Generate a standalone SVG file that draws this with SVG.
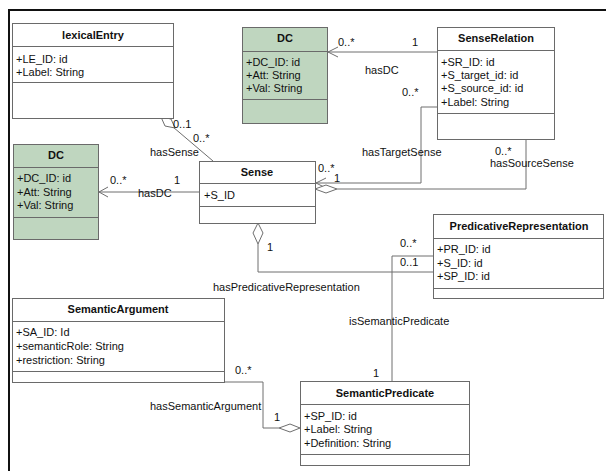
<svg xmlns="http://www.w3.org/2000/svg" width="606" height="471" viewBox="0 0 606 471">
<style>
text{font-family:"Liberation Sans",Arial,sans-serif;font-size:11px;fill:#111}
.t{font-weight:bold;text-anchor:middle}
.box{fill:#fff;stroke:#6a6a6a;stroke-width:1}
.g{fill:#bfd6bf;stroke:#6a6a6a;stroke-width:1}
.sep{stroke:#6a6a6a;stroke-width:1}
.c{fill:none;stroke:#6e6e6e;stroke-width:1}
.d{fill:#fff;stroke:#6e6e6e;stroke-width:1}
</style>
<rect x="0" y="0" width="606" height="471" fill="#fff"/>
<path d="M9,471 V10 H606" fill="none" stroke="#111" stroke-width="2"/>

<g id="connectors">
  <!-- hasSense -->
  <path class="c" d="M173,127 L213,161"/>
  <path class="d" d="M161,117 L171,119 L175,128 L165,126 Z"/>
  <text x="173" y="128">0..1</text>
  <text x="193" y="142">0..*</text>
  <text x="150" y="156">hasSense</text>
  <!-- hasDC left -->
  <path class="c" d="M199,192 H99"/>
  <path class="c" d="M108,187 L99,192 L108,197"/>
  <text x="110" y="184">0..*</text>
  <text x="174" y="184">1</text>
  <text x="138" y="197">hasDC</text>
  <!-- hasDC top -->
  <path class="c" d="M437,52 H328"/>
  <path class="c" d="M338,47 L328,52 L338,57"/>
  <text x="338" y="46">0..*</text>
  <text x="412" y="46">1</text>
  <text x="365" y="74">hasDC</text>
  <!-- hasTargetSense -->
  <path class="c" d="M437,107 H421 V183 H316"/>
  <path class="c" d="M326,178 L316,183 L326,188"/>
  <text x="402" y="96">0..*</text>
  <text x="362" y="156">hasTargetSense</text>
  <text x="318" y="172">0..*</text>
  <text x="334" y="182">1</text>
  <!-- hasSourceSense -->
  <path class="c" d="M526,139 V189 H337"/>
  <path class="d" d="M315,189 L326,185 L337,189 L326,193 Z"/>
  <text x="495" y="155">0..*</text>
  <text x="490" y="167">hasSourceSense</text>
  <!-- hasPredicativeRepresentation -->
  <path class="c" d="M258,244 V272 H433"/>
  <path class="d" d="M258,223 L263,233 L258,244 L253,233 Z"/>
  <text x="267" y="251">1</text>
  <text x="213" y="291">hasPredicativeRepresentation</text>
  <text x="400" y="247">0..*</text>
  <!-- isSemanticPredicate -->
  <path class="c" d="M433,256 H392 V381"/>
  <text x="400" y="266">0..1</text>
  <text x="349" y="325">isSemanticPredicate</text>
  <text x="373" y="377">1</text>
  <!-- hasSemanticArgument -->
  <path class="c" d="M224,382 H263 V428 H279"/>
  <path class="d" d="M279,428 L290,424 L300,428 L290,432 Z"/>
  <text x="235" y="374">0..*</text>
  <text x="150" y="410">hasSemanticArgument</text>
  <text x="274" y="421">1</text>
</g>

<g id="lexicalEntry">
  <rect class="box" x="12.5" y="23.5" width="161" height="95"/>
  <path class="sep" d="M12.5,46.5 H173.5 M12.5,82.5 H173.5"/>
  <text class="t" x="93" y="39">lexicalEntry</text>
  <text x="16" y="63">+LE_ID: id</text>
  <text x="16" y="76">+Label: String</text>
</g>

<g id="DC_top">
  <rect class="g" x="242.5" y="27.5" width="85" height="96"/>
  <path class="sep" d="M242.5,51.5 H327.5 M242.5,99.5 H327.5"/>
  <text class="t" x="285" y="42">DC</text>
  <text x="246" y="66">+DC_ID: id</text>
  <text x="246" y="79">+Att: String</text>
  <text x="246" y="92">+Val: String</text>
</g>

<g id="SenseRelation">
  <rect class="box" x="437.5" y="27.5" width="117" height="112"/>
  <path class="sep" d="M437.5,50.5 H554.5 M437.5,113.5 H554.5"/>
  <text class="t" x="496" y="42">SenseRelation</text>
  <text x="441" y="66">+SR_ID: id</text>
  <text x="441" y="79">+S_target_id: id</text>
  <text x="441" y="92">+S_source_id: id</text>
  <text x="441" y="106">+Label: String</text>
</g>

<g id="DC_left">
  <rect class="g" x="13.5" y="144.5" width="85" height="95"/>
  <path class="sep" d="M13.5,167.5 H98.5 M13.5,217.5 H98.5"/>
  <text class="t" x="56" y="159">DC</text>
  <text x="17" y="182">+DC_ID: id</text>
  <text x="17" y="196">+Att: String</text>
  <text x="17" y="209">+Val: String</text>
</g>

<g id="Sense">
  <rect class="box" x="199.5" y="161.5" width="116" height="62"/>
  <path class="sep" d="M199.5,183.5 H315.5 M199.5,206.5 H315.5"/>
  <text class="t" x="257" y="176">Sense</text>
  <text x="204" y="199">+S_ID</text>
</g>

<g id="PredicativeRepresentation">
  <rect class="box" x="433.5" y="214.5" width="170" height="84"/>
  <path class="sep" d="M433.5,238.5 H603.5 M433.5,288.5 H603.5"/>
  <text class="t" x="519" y="230">PredicativeRepresentation</text>
  <text x="437" y="253">+PR_ID: id</text>
  <text x="437" y="267">+S_ID: id</text>
  <text x="437" y="280">+SP_ID: id</text>
</g>

<g id="SemanticArgument">
  <rect class="box" x="12.5" y="298.5" width="212" height="84"/>
  <path class="sep" d="M12.5,321.5 H224.5 M12.5,371.5 H224.5"/>
  <text class="t" x="118" y="313">SemanticArgument</text>
  <text x="16" y="336">+SA_ID: Id</text>
  <text x="16" y="350">+semanticRole: String</text>
  <text x="16" y="364">+restriction: String</text>
</g>

<g id="SemanticPredicate">
  <rect class="box" x="300.5" y="381.5" width="169" height="84"/>
  <path class="sep" d="M300.5,404.5 H469.5 M300.5,454.5 H469.5"/>
  <text class="t" x="385" y="397">SemanticPredicate</text>
  <text x="304" y="420">+SP_ID: id</text>
  <text x="304" y="433">+Label: String</text>
  <text x="304" y="447">+Definition: String</text>
</g>
</svg>
